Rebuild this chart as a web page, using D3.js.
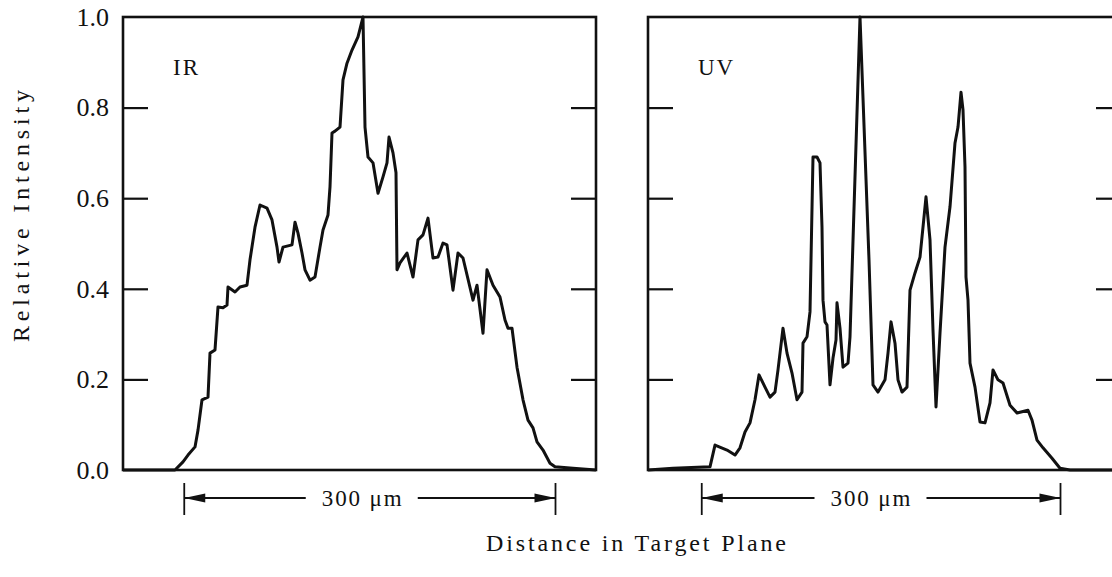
<!DOCTYPE html>
<meta charset="utf-8">
<script src="https://d3js.org/d3.v7.min.js"></script>
<style>
  body { margin: 0; background: #fff; }
</style>
<body>
<div id="chart"></div>
<script>

// distance across the target plane (um) and relative intensity
const irX = [0, 41.6, 48, 52, 57.6, 60, 63.2, 68, 69.6, 73.6, 76, 80, 83.2, 84, 89.6, 93.6, 99.2,
  101.6, 105.6, 109.6, 115.2, 119.2, 123.2, 124.8, 128, 135.2, 137.6, 140, 143.2, 145.6, 149.6,
  153.6, 157.6, 160, 164, 165.6, 167.2, 169.6, 173.6, 176, 179.2, 183.2, 188, 192, 193.6, 196,
  200, 204, 208, 211.2, 212.8, 216, 218.4, 219.2, 221.6, 227.2, 232, 236, 240, 244, 248, 252,
  256, 259.2, 264, 268, 272, 280, 283.2, 288, 291.2, 296, 301.6, 305.6, 308, 311.2, 315.2, 320,
  324, 328, 331.2, 336, 341.6, 345.6, 360, 378.4];
const irY = [0, 0, 0.018, 0.033, 0.051, 0.088, 0.155, 0.161, 0.258, 0.265, 0.36, 0.358, 0.364,
  0.404, 0.393, 0.404, 0.408, 0.464, 0.536, 0.585, 0.578, 0.552, 0.492, 0.459, 0.492, 0.497,
  0.547, 0.523, 0.479, 0.442, 0.419, 0.426, 0.492, 0.53, 0.563, 0.625, 0.744, 0.748, 0.757,
  0.861, 0.898, 0.927, 0.956, 1.0, 0.757, 0.691, 0.678, 0.611, 0.647, 0.678, 0.735, 0.7, 0.656,
  0.442, 0.457, 0.479, 0.426, 0.508, 0.519, 0.556, 0.468, 0.47, 0.501, 0.497, 0.397, 0.479,
  0.468, 0.375, 0.408, 0.302, 0.442, 0.408, 0.382, 0.331, 0.313, 0.313, 0.227, 0.155, 0.11,
  0.093, 0.062, 0.044, 0.015, 0.007, 0.004, 0];

const uvX = [0, 20, 49.6, 53.6, 63.2, 69.6, 73.6, 77.6, 81.6, 85.6, 88.8, 93.6, 97.6, 101.6, 104,
  108, 111.2, 115.2, 119.2, 123.2, 124, 127.2, 129.6, 132, 135.2, 137.6, 139.2, 140, 141.6, 143.2,
  145.6, 148, 150.4, 151.2, 153.6, 156, 160, 161.6, 169.6, 176.8, 180, 184, 189.6, 192, 194.4,
  197.6, 200, 203.2, 207.2, 209.6, 213.6, 217.6, 220, 222.4, 225.6, 228, 230.4, 233.6, 237.6,
  241.6, 245.6, 248, 250.4, 252, 253.6, 254.4, 256, 257.6, 261.6, 265.6, 269.6, 273.6, 276, 280,
  284, 289.6, 295.2, 304, 307.2, 311.2, 316, 323.2, 329.6, 337.6, 379.2];
const uvY = [0, 0.004, 0.007, 0.055, 0.044, 0.033, 0.049, 0.084, 0.104, 0.155, 0.21, 0.183,
  0.161, 0.172, 0.221, 0.313, 0.258, 0.214, 0.155, 0.172, 0.28, 0.294, 0.349, 0.691, 0.691,
  0.678, 0.536, 0.375, 0.327, 0.32, 0.188, 0.247, 0.287, 0.369, 0.313, 0.227, 0.236, 0.294, 1.0,
  0.464, 0.188, 0.172, 0.199, 0.258, 0.327, 0.28, 0.199, 0.172, 0.183, 0.397, 0.435, 0.47,
  0.536, 0.603, 0.508, 0.309, 0.139, 0.302, 0.492, 0.581, 0.722, 0.757, 0.834, 0.795, 0.669,
  0.426, 0.375, 0.236, 0.183, 0.106, 0.104, 0.148, 0.221, 0.199, 0.192, 0.143, 0.126, 0.132,
  0.11, 0.066, 0.049, 0.026, 0.004, 0, 0];

const panelNames = ["IR", "UV"];
const scaleBarEnds = [[49, 346], [43, 330]];   // um, where the 300 um bar was drawn
const scaleBarMid = [191, 178];
const scaleBarLabel = "300 \u03bcm";
const yTicks = [0, 0.2, 0.4, 0.6, 0.8, 1.0];
const yTitle = "Relative Intensity";
const xTitle = "Distance in Target Plane";

const W = 1112, H = 577;
const panelLeft = [123, 648],
    panelTop = 17, panelW = 473, panelH = 453;
const serif = "'Liberation Serif', 'Times New Roman', serif";
const ink = "#111";

const svg = d3.select("#chart")
  .append("svg")
    .attr("width", W)
    .attr("height", H);

const x = d3.scaleLinear().domain([0, 378.4]).range([0, panelW]);
const y = d3.scaleLinear().domain([0, 1]).range([panelH, 0]);

const series = [
  irX.map((v, i) => ({x: v, y: irY[i]})),
  uvX.map((v, i) => ({x: v, y: uvY[i]}))
];

const line = d3.line()
  .x(d => x(d.x))
  .y(d => y(d.y));

panelNames.forEach(function(name, p) {
  const g = svg.append("g")
    .attr("transform", `translate(${panelLeft[p]},${panelTop})`);

  // inward ticks on both sides
  const inner = yTicks.slice(1, -1);
  g.append("g")
    .call(d3.axisLeft(y).tickValues(inner).tickSize(-25).tickFormat(""))
    .call(a => a.select(".domain").remove())
    .selectAll("line").attr("stroke", ink).attr("stroke-width", 2.2);
  g.append("g")
    .attr("transform", `translate(${panelW},0)`)
    .call(d3.axisRight(y).tickValues(inner).tickSize(-25).tickFormat(""))
    .call(a => a.select(".domain").remove())
    .selectAll("line").attr("stroke", ink).attr("stroke-width", 2.2);

  g.append("rect")
    .attr("width", panelW)
    .attr("height", panelH)
    .attr("fill", "none")
    .attr("stroke", ink)
    .attr("stroke-width", 2.6);

  g.append("path")
    .datum(series[p])
    .attr("d", line)
    .attr("fill", "none")
    .attr("stroke", ink)
    .attr("stroke-width", 3)
    .attr("stroke-linejoin", "round");

  g.append("text")
    .attr("x", 50)
    .attr("y", 58)
    .style("font-family", serif)
    .style("font-size", "23px")
    .style("letter-spacing", "2px")
    .style("fill", ink)
    .text(name);

  // 300 um scale bar under the panel
  const by = panelH + 28;
  const [b0, b1] = scaleBarEnds[p].map(x);
  const mid = x(scaleBarMid[p]);
  const sb = g.append("g").attr("stroke", ink).attr("stroke-width", 1.8);
  sb.append("line").attr("x1", b0).attr("x2", b0).attr("y1", by - 15).attr("y2", by + 17);
  sb.append("line").attr("x1", b1).attr("x2", b1).attr("y1", by - 15).attr("y2", by + 17);
  sb.append("line").attr("x1", b0).attr("x2", mid - 56).attr("y1", by).attr("y2", by);
  sb.append("line").attr("x1", mid + 56).attr("x2", b1).attr("y1", by).attr("y2", by);
  g.append("path")
    .attr("d", `M${b0},${by}L${b0 + 21},${by - 4.5}L${b0 + 21},${by + 4.5}Z`)
    .attr("fill", ink);
  g.append("path")
    .attr("d", `M${b1},${by}L${b1 - 21},${by - 4.5}L${b1 - 21},${by + 4.5}Z`)
    .attr("fill", ink);
  g.append("text")
    .attr("x", mid)
    .attr("y", by + 8)
    .attr("text-anchor", "middle")
    .attr("textLength", 80)
    .attr("lengthAdjust", "spacing")
    .style("font-family", serif)
    .style("font-size", "23px")
    .style("fill", ink)
    .text(scaleBarLabel);
});

// tick labels on the left panel only
const yLab = svg.append("g")
  .attr("transform", `translate(${panelLeft[0]},${panelTop})`)
  .call(d3.axisLeft(y).tickValues(yTicks).tickSize(0).tickPadding(14).tickFormat(d3.format(".1f")));
yLab.select(".domain").remove();
yLab.selectAll("text")
  .style("font-family", serif)
  .style("font-size", "26px")
  .style("fill", ink);

svg.append("text")
  .attr("transform", `translate(29,${panelTop + 199}) rotate(-90)`)
  .attr("text-anchor", "middle")
  .attr("textLength", 252)
  .attr("lengthAdjust", "spacing")
  .style("font-family", serif)
  .style("font-size", "24px")
  .style("fill", ink)
  .text(yTitle);

svg.append("text")
  .attr("x", 636)
  .attr("y", 551)
  .attr("text-anchor", "middle")
  .attr("textLength", 300)
  .attr("lengthAdjust", "spacing")
  .style("font-family", serif)
  .style("font-size", "24px")
  .style("fill", ink)
  .text(xTitle);

</script>
